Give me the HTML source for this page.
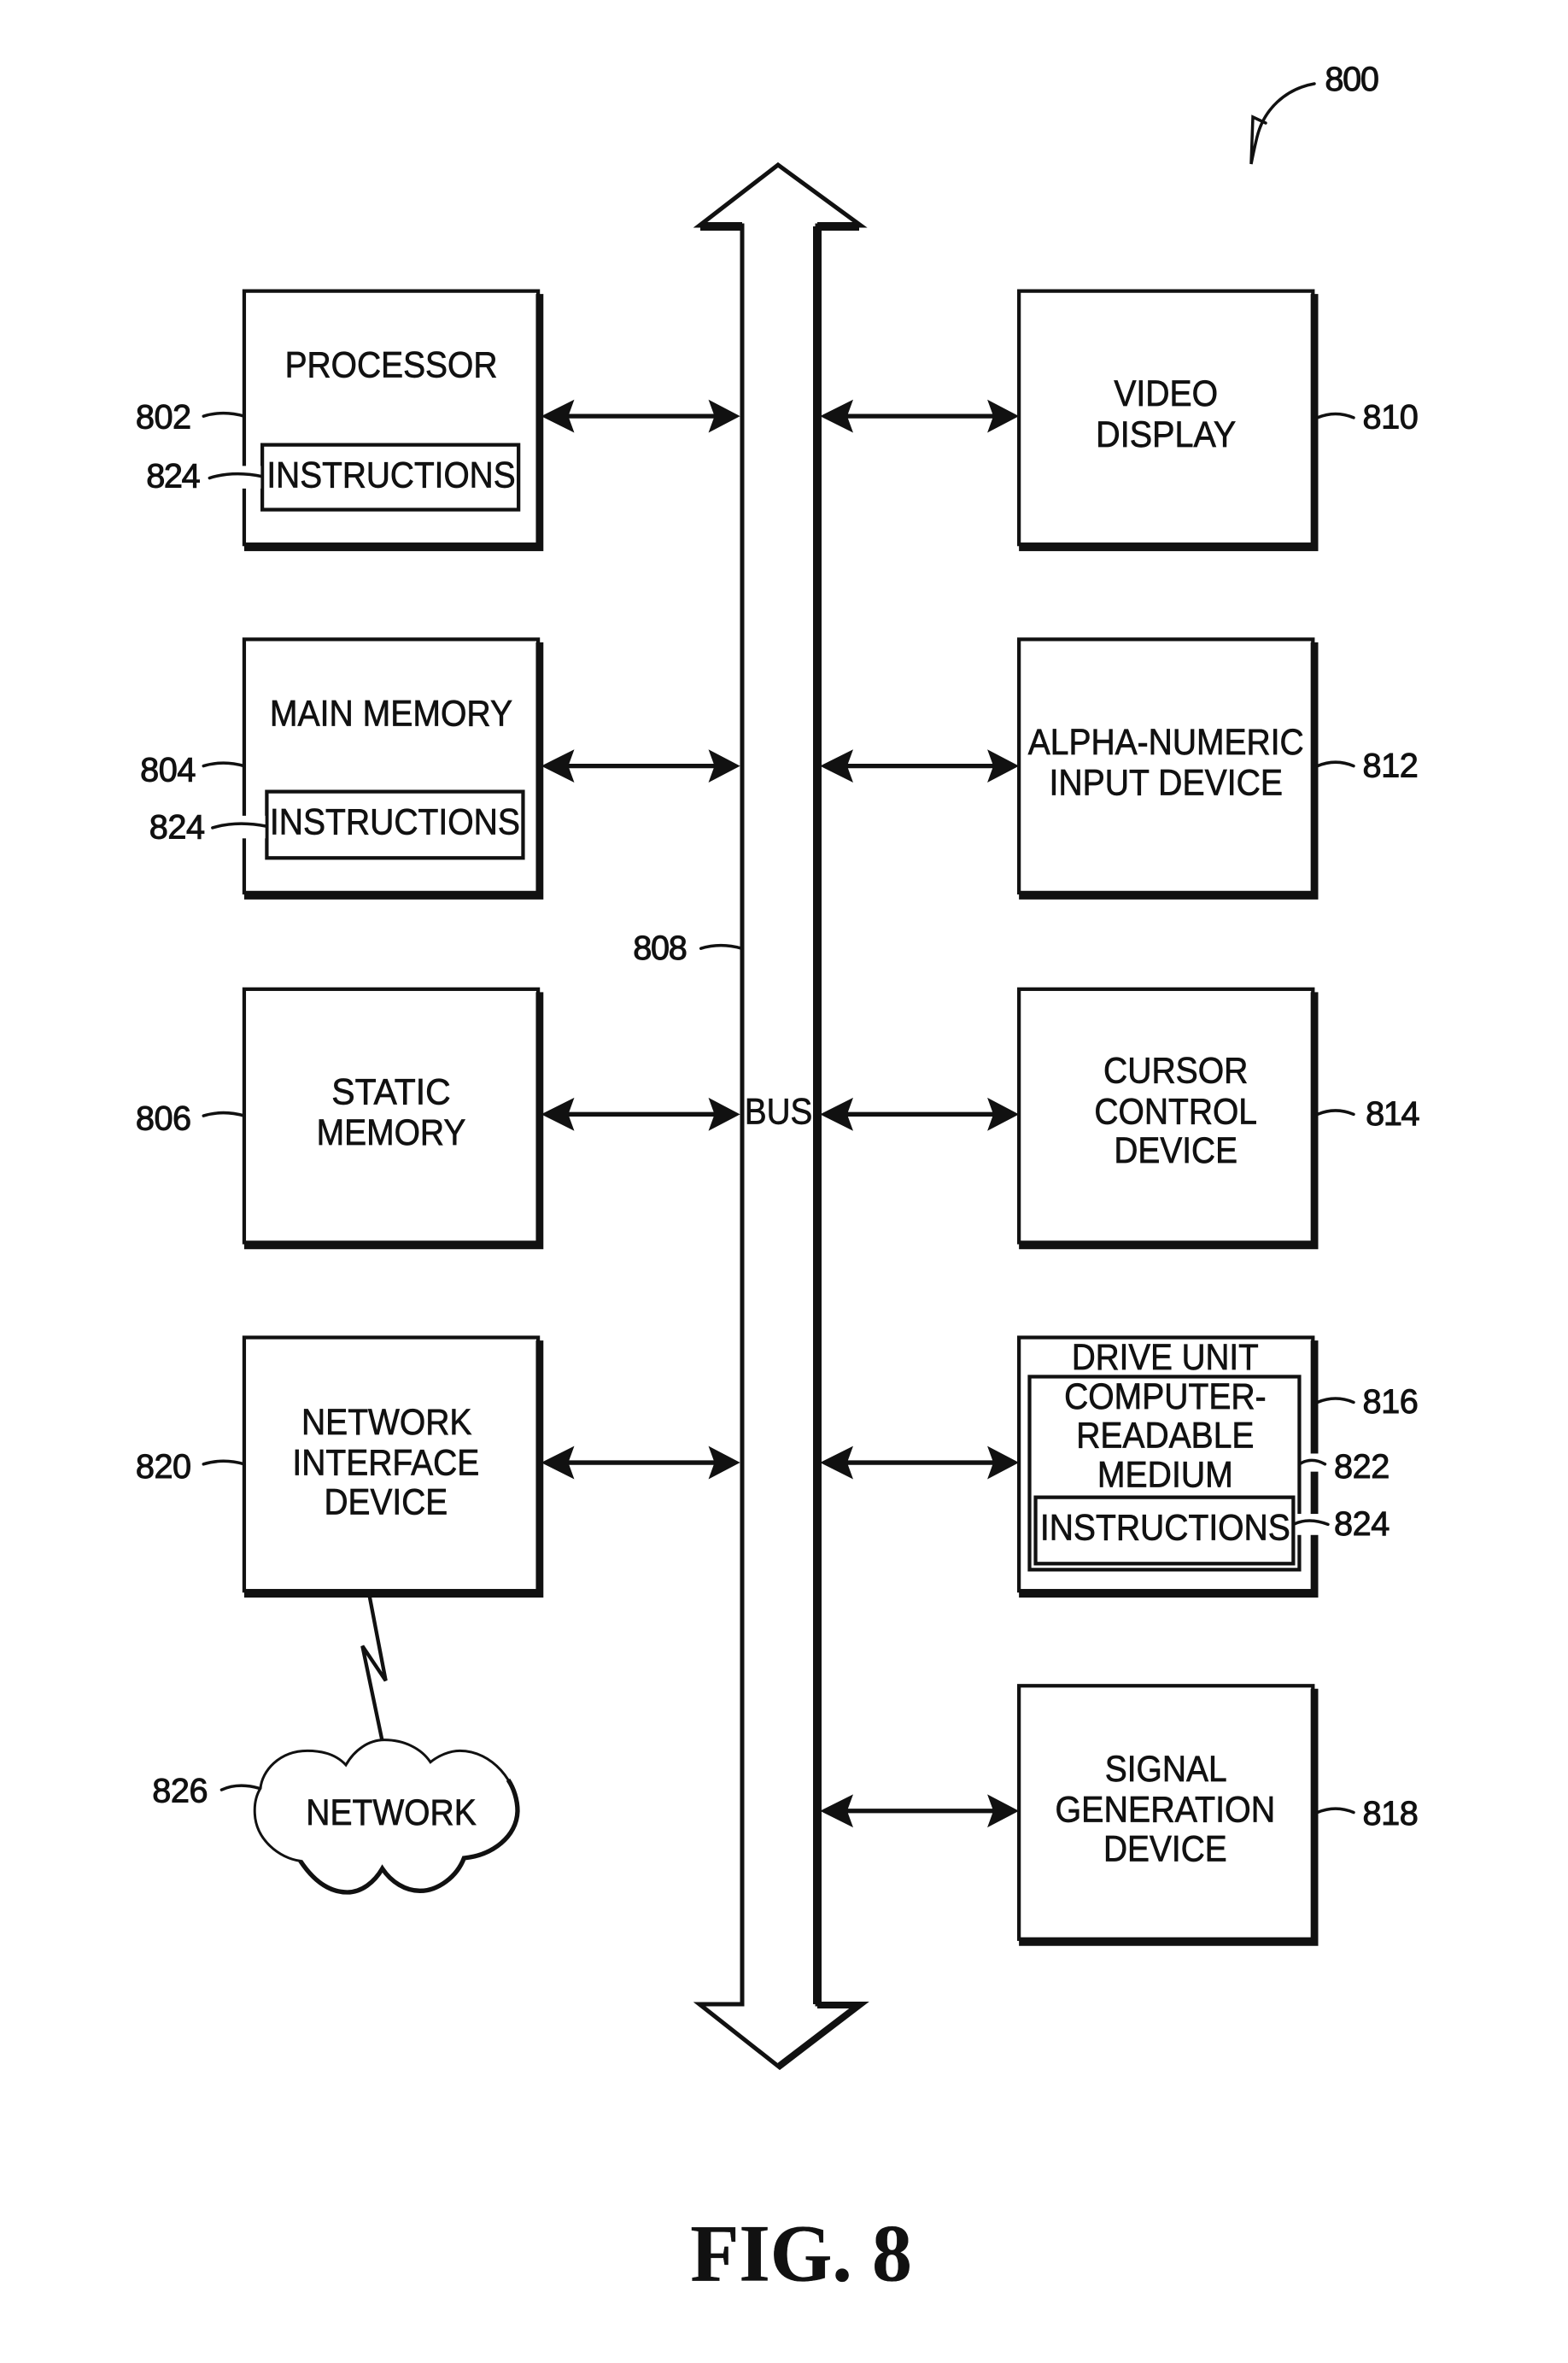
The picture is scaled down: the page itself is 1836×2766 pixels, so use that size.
<!DOCTYPE html>
<html><head><meta charset="utf-8"><style>
html,body{margin:0;padding:0;background:#fff}
svg{display:block}
text{font-family:"Liberation Sans",Arial,sans-serif;font-size:24px;fill:#111;stroke:#111;stroke-width:.4;transform:translateY(-.8px)}
.n{font-size:22.5px;stroke-width:.55}
.f{font-family:"Liberation Serif","Times New Roman",serif;font-weight:bold;font-size:54px;stroke-width:.2;transform:translateY(-1.5px)}
.b{fill:#fff;stroke:#111;stroke-width:2.4}
.s{fill:none;stroke:#111;stroke-width:5}
.l{fill:none;stroke:#111;stroke-width:2;stroke-linecap:round}
</style></head><body>
<svg xmlns="http://www.w3.org/2000/svg" width="1836" height="2766" viewBox="0 0 1836 2766">
<rect width="1836" height="2766" fill="#fff"/>
<!-- BUS -->
<path d="M911 193 L1008 264 L957 264 L957 2346 L1008 2346 L913 2420 L819 2346 L869 2346 L869 264 L819 264 Z" fill="#fff" stroke="#111" stroke-width="5" stroke-linejoin="miter"/>
<path d="M957 265 L957 2346" stroke="#111" stroke-width="10" fill="none"/>
<path d="M820 265 L869 265 M957 265 L1006 265" stroke="#111" stroke-width="10" fill="none"/>
<path d="M957 2347 L1006 2347 L913 2418" stroke="#111" stroke-width="8" fill="none"/>
<!-- 800 arrow -->
<path d="M1539 98 C1505 104 1480 128 1472 160 C1469 172 1467 182 1465 192 L1467 137 L1482 144" fill="none" stroke="#111" stroke-width="3.5" stroke-linecap="round"/>
<g transform="scale(1.765)">
<defs>
<g id="a"><path d="M8 0 H122" stroke="#111" stroke-width="3" fill="none"/>
<path d="M-1 0 L21 -11 L17 0 L21 11 Z M131 0 L110 -11 L114 0 L110 11 Z" fill="#111"/></g>
<g id="box"><rect class="b" x="0" y="0" width="195" height="168"/><path class="s" d="M196 2 V170 H0"/></g>
</defs>
<use href="#box" x="162" y="193"/><use href="#box" x="162" y="424"/><use href="#box" x="162" y="656"/><use href="#box" x="162" y="887"/>
<use href="#box" x="676" y="193"/><use href="#box" x="676" y="424"/><use href="#box" x="676" y="656"/><use href="#box" x="676" y="887"/><use href="#box" x="676" y="1118"/>
<!-- inner boxes -->
<rect class="b" x="174" y="295" width="170" height="43"/>
<rect class="b" x="177" y="525" width="170" height="44"/>
<rect class="b" x="683" y="913" width="179" height="128"/>
<rect class="b" x="687" y="993" width="171" height="44"/>
<!-- gaps -->
<rect x="160" y="309" width="13" height="15" fill="#fff"/><rect x="160" y="541" width="16" height="15" fill="#fff"/>
<rect x="864" y="964" width="12" height="12" fill="#fff"/><rect x="860" y="1004" width="16" height="14" fill="#fff"/>
<!-- arrows -->
<use href="#a" x="360" y="276"/><use href="#a" x="360" y="508"/><use href="#a" x="360" y="739"/><use href="#a" x="360" y="970"/>
<use href="#a" x="545" y="276"/><use href="#a" x="545" y="508"/><use href="#a" x="545" y="739"/><use href="#a" x="545" y="970"/><use href="#a" x="545" y="1201"/>
<!-- leaders -->
<path class="l" d="M135 276 Q148 272 162 276 M139 317 Q155 312 174 316 M135 508 Q148 504 162 508 M141 549 Q157 544 177 548 M135 740 Q148 736 162 740 M135 971 Q148 967 162 971 M147 1187 Q158 1182 172 1186 M465 629 Q478 625 492 629 M874 277 Q886 272 898 277 M874 508 Q886 503 898 508 M874 739 Q886 734 898 739 M874 930 Q886 925 898 930 M862 971 Q870 966 879 971 M858 1011 Q868 1006 881 1011 M874 1202 Q886 1197 898 1202"/>
<!-- box text -->
<text x="189" y="251" textLength="141" lengthAdjust="spacingAndGlyphs">PROCESSOR</text>
<text x="177" y="324" textLength="165" lengthAdjust="spacingAndGlyphs">INSTRUCTIONS</text>
<text x="179" y="482" textLength="161" lengthAdjust="spacingAndGlyphs">MAIN MEMORY</text>
<text x="179" y="554" textLength="166" lengthAdjust="spacingAndGlyphs">INSTRUCTIONS</text>
<text x="220" y="733" textLength="79" lengthAdjust="spacingAndGlyphs">STATIC</text>
<text x="210" y="760" textLength="99" lengthAdjust="spacingAndGlyphs">MEMORY</text>
<text x="200" y="952" textLength="113" lengthAdjust="spacingAndGlyphs">NETWORK</text>
<text x="194" y="979" textLength="124" lengthAdjust="spacingAndGlyphs">INTERFACE</text>
<text x="215" y="1005" textLength="82" lengthAdjust="spacingAndGlyphs">DEVICE</text>
<text x="494" y="746" textLength="45" lengthAdjust="spacingAndGlyphs">BUS</text>
<text x="739" y="270" textLength="69" lengthAdjust="spacingAndGlyphs">VIDEO</text>
<text x="727" y="297" textLength="93" lengthAdjust="spacingAndGlyphs">DISPLAY</text>
<text x="682" y="501" textLength="183" lengthAdjust="spacingAndGlyphs">ALPHA-NUMERIC</text>
<text x="696" y="528" textLength="155" lengthAdjust="spacingAndGlyphs">INPUT DEVICE</text>
<text x="732" y="719" textLength="96" lengthAdjust="spacingAndGlyphs">CURSOR</text>
<text x="726" y="746" textLength="108" lengthAdjust="spacingAndGlyphs">CONTROL</text>
<text x="739" y="772" textLength="82" lengthAdjust="spacingAndGlyphs">DEVICE</text>
<text x="711" y="909" textLength="124" lengthAdjust="spacingAndGlyphs">DRIVE UNIT</text>
<text x="706" y="935" textLength="134" lengthAdjust="spacingAndGlyphs">COMPUTER-</text>
<text x="714" y="961" textLength="118" lengthAdjust="spacingAndGlyphs">READABLE</text>
<text x="728" y="987" textLength="90" lengthAdjust="spacingAndGlyphs">MEDIUM</text>
<text x="690" y="1022" textLength="166" lengthAdjust="spacingAndGlyphs">INSTRUCTIONS</text>
<text x="733" y="1182" textLength="81" lengthAdjust="spacingAndGlyphs">SIGNAL</text>
<text x="700" y="1209" textLength="146" lengthAdjust="spacingAndGlyphs">GENERATION</text>
<text x="732" y="1235" textLength="82" lengthAdjust="spacingAndGlyphs">DEVICE</text>
<!-- refs -->
<text class="n" x="879" y="61" textLength="36">800</text>
<text class="n" x="90" y="285" textLength="37">802</text>
<text class="n" x="97" y="324" textLength="36">824</text>
<text class="n" x="93" y="519" textLength="37">804</text>
<text class="n" x="99" y="557" textLength="37">824</text>
<text class="n" x="90" y="750" textLength="37">806</text>
<text class="n" x="90" y="981" textLength="37">820</text>
<text class="n" x="101" y="1196" textLength="37">826</text>
<text class="n" x="420" y="637" textLength="36">808</text>
<text class="n" x="904" y="285" textLength="37">810</text>
<text class="n" x="904" y="516" textLength="37">812</text>
<text class="n" x="906" y="747" textLength="36">814</text>
<text class="n" x="904" y="938" textLength="37">816</text>
<text class="n" x="885" y="981" textLength="37">822</text>
<text class="n" x="885" y="1019" textLength="37">824</text>
<text class="n" x="904" y="1211" textLength="37">818</text>
<text class="f" x="458" y="1514" textLength="147" lengthAdjust="spacingAndGlyphs">FIG. 8</text>
</g>
<!-- cloud + lightning -->
<g transform="translate(130,1780) scale(.33333)">
<path d="M908 265 L965 562 L883 440 L952 770" fill="none" stroke="#111" stroke-width="13" stroke-linejoin="miter"/>
<path d="M825 858 C790 820 740 808 690 808 C590 808 530 880 525 940 C500 980 505 1020 505 1030 C510 1120 590 1185 665 1195 C715 1270 770 1305 830 1305 C880 1305 925 1270 953 1222 C985 1270 1035 1300 1085 1300 C1150 1300 1215 1250 1240 1185 C1340 1175 1425 1110 1428 1020 C1428 920 1340 808 1225 808 C1190 808 1150 825 1122 848 C1090 800 1030 770 960 770 C905 770 855 805 825 858 Z" fill="#fff" stroke="#111" stroke-width="9"/>
<path d="M665 1195 C715 1270 770 1305 830 1305 C880 1305 925 1270 953 1222 C985 1270 1035 1300 1085 1300 C1150 1300 1215 1250 1240 1185 C1340 1175 1425 1110 1428 1020 C1428 980 1415 940 1395 910" fill="none" stroke="#111" stroke-width="16"/>
</g>
<g transform="scale(1.765)">
<text x="203" y="1211" textLength="113" lengthAdjust="spacingAndGlyphs">NETWORK</text>
</g>
</svg>
</body></html>
